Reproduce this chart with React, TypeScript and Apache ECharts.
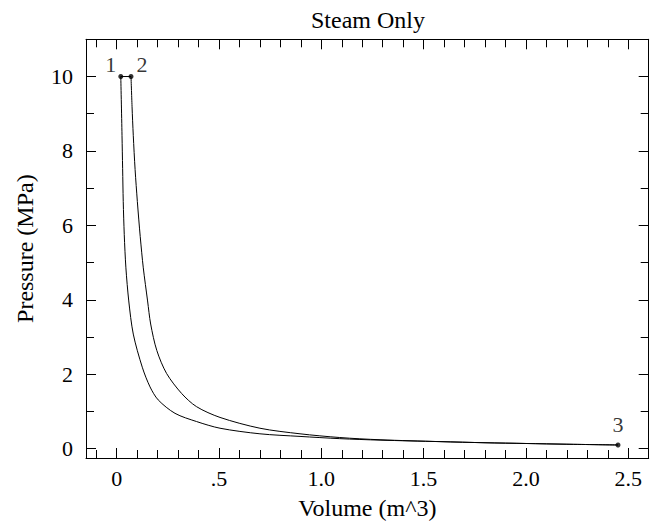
import React, { useEffect, useRef } from "react";
import * as echarts from "echarts";

const xMajorTicks = [0, 0.5, 1.0, 1.5, 2.0, 2.5];
const xMinorTicks = [-0.1, 0.1, 0.2, 0.3, 0.4, 0.6, 0.7, 0.8, 0.9, 1.1, 1.2, 1.3, 1.4, 1.6, 1.7, 1.8, 1.9, 2.1, 2.2, 2.3, 2.4];
const yMajorTicks = [0, 2, 4, 6, 8, 10];
const yMinorTicks = [1, 3, 5, 7, 9];

// Curve from state 2 to state 3
const curve23: [number, number][] = [
  [0.07, 10], [0.075, 9.2], [0.081, 8.42], [0.09, 7.5], [0.101, 6.64], [0.115, 5.7],
  [0.13, 4.86], [0.151, 3.97], [0.166, 3.35], [0.196, 2.64], [0.244, 2.02], [0.318, 1.48],
  [0.39, 1.13], [0.505, 0.84], [0.7, 0.55], [0.896, 0.4], [1.09, 0.3], [1.287, 0.24],
  [1.58, 0.19], [1.8, 0.16], [2.0, 0.14], [2.2, 0.12], [2.45, 0.1],
];
// Curve from state 1 to state 3
const curve13: [number, number][] = [
  [0.02, 10], [0.026, 8.42], [0.029, 7.53], [0.032, 6.64], [0.037, 5.75], [0.045, 4.86],
  [0.059, 3.97], [0.081, 3.08], [0.125, 2.19], [0.163, 1.66], [0.203, 1.31], [0.285, 0.95],
  [0.39, 0.73], [0.505, 0.55], [0.7, 0.4], [0.896, 0.33], [1.09, 0.27], [1.287, 0.23],
  [1.58, 0.19], [1.8, 0.16], [2.0, 0.14], [2.2, 0.12], [2.45, 0.1],
];
const line12: [number, number][] = [[0.02, 10], [0.07, 10]];
const stateNames = ["1", "2", "3"];
const stateValues: [number, number][] = [[0.02, 10], [0.07, 10], [2.45, 0.1]];

const FONT = "'Liberation Serif', 'Times New Roman', serif";

export default function App() {
  const ref = useRef<HTMLDivElement>(null);
  useEffect(() => {
    document.body.style.margin = "0";
    const chart = echarts.init(ref.current!, null, { renderer: "svg" });
    const baseX = {
      type: "value",
      min: -0.15,
      max: 2.6,
      splitLine: { show: false },
    };
    const baseY = {
      type: "value",
      min: -0.25,
      max: 11,
      splitLine: { show: false },
    };
    const line = { show: true, onZero: false, lineStyle: { color: "#000", width: 1 } };
    const noLine = { show: false, onZero: false };
    const tick = (vals: number[], len: number) => ({
      show: true,
      inside: true,
      length: len,
      customValues: vals,
      lineStyle: { color: "#000", width: 1 },
    });
    const xLabelFmt = (v: number) => (v === 0 ? "0" : v === 0.5 ? ".5" : v.toFixed(1));
    const labelPos = [
      { position: "left", distance: 2, offset: [0, -12] },
      { position: "right", distance: 3, offset: [0, -12] },
      { position: "top", distance: 7 },
    ];
    const curveStyle = {
      type: "line",
      smooth: 0.3,
      showSymbol: false,
      lineStyle: { color: "#000", width: 1 },
      silent: true,
    };
    chart.setOption({
      animation: false,
      title: {
        text: "Steam Only",
        left: 363,
        textAlign: "center",
        top: 3,
        textStyle: { fontFamily: FONT, fontWeight: "normal", fontSize: 24, color: "#000" },
      },
      grid: { left: 86, right: 8.3, top: 39.3, bottom: 63.7, containLabel: false },
      xAxis: [
        {
          ...baseX,
          position: "bottom",
          axisLine: line,
          axisTick: tick(xMajorTicks, 10),
          axisLabel: {
            show: true,
            customValues: xMajorTicks,
            formatter: xLabelFmt,
            margin: 9,
            fontFamily: FONT,
            fontSize: 22,
            color: "#000",
          },
          name: "Volume (m^3)",
          nameLocation: "middle",
          nameGap: 38,
          nameTextStyle: { fontFamily: FONT, fontSize: 24, color: "#000" },
        },
        { ...baseX, position: "bottom", axisLine: noLine, axisTick: tick(xMinorTicks, 8), axisLabel: { show: false } },
        { ...baseX, position: "top", axisLine: line, axisTick: tick(xMajorTicks, 10), axisLabel: { show: false } },
        { ...baseX, position: "top", axisLine: noLine, axisTick: tick(xMinorTicks, 8), axisLabel: { show: false } },
      ],
      yAxis: [
        {
          ...baseY,
          position: "left",
          axisLine: line,
          axisTick: tick(yMajorTicks, 10),
          axisLabel: {
            show: true,
            customValues: yMajorTicks,
            margin: 13,
            fontFamily: FONT,
            fontSize: 22,
            color: "#000",
          },
          name: "Pressure (MPa)",
          nameLocation: "middle",
          nameGap: 49,
          nameRotate: 90,
          nameTextStyle: { fontFamily: FONT, fontSize: 24, color: "#000" },
        },
        { ...baseY, position: "left", axisLine: noLine, axisTick: tick(yMinorTicks, 8), axisLabel: { show: false } },
        { ...baseY, position: "right", axisLine: line, axisTick: tick(yMajorTicks, 10), axisLabel: { show: false } },
        { ...baseY, position: "right", axisLine: noLine, axisTick: tick(yMinorTicks, 8), axisLabel: { show: false } },
      ],
      series: [
        { ...curveStyle, data: curve23 },
        { ...curveStyle, data: curve13 },
        { ...curveStyle, smooth: false, data: line12 },
        {
          type: "scatter",
          data: stateValues.map((v, i) => ({ name: stateNames[i], value: v, label: labelPos[i] })),
          symbol: "circle",
          symbolSize: 5,
          itemStyle: { color: "#000" },
          label: {
            show: true,
            formatter: "{b}",
            fontFamily: FONT,
            fontSize: 22,
            color: "#000",
            textBorderWidth: 0,
          },
          silent: true,
        },
      ],
    });
    return () => chart.dispose();
  }, []);
  return <div ref={ref} style={{ width: 657, height: 525 }} />;
}
